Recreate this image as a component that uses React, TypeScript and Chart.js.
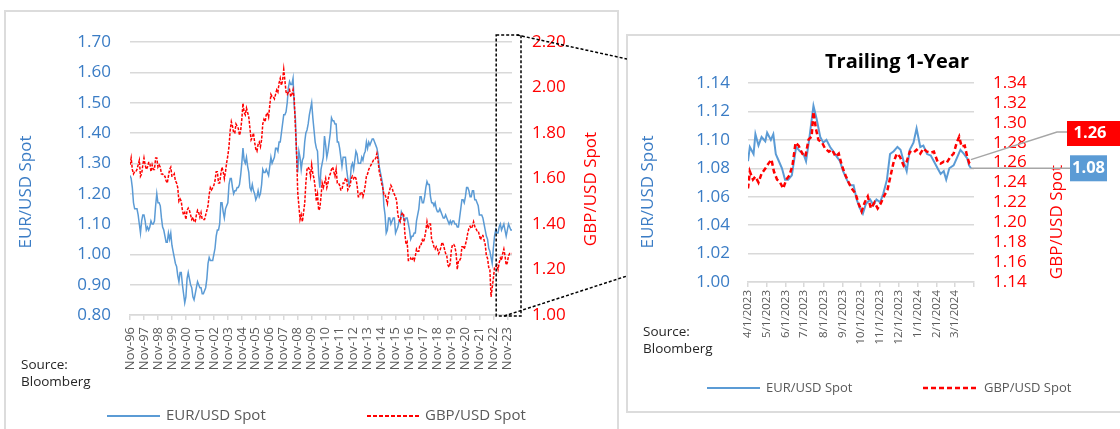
import { useEffect, useRef } from 'react';
import { Chart, registerables } from 'chart.js';

Chart.register(...registerables);

const FONT = '"Open Sans", "Liberation Sans", sans-serif';
const EUR_COLOR = '#5B9BD5';
const EUR_TEXT = '#3A7CC5';
const GBP_COLOR = '#FF0000';
const GRID = '#D9D9D9';
const AXIS_TEXT = '#595959';
const NOTE_TEXT = '#262626';

// ---- Long-run history: one value per month, Nov-96 through Mar-24 ----
const historyStart = { year: 1996, month: 11 };
const eurUsdMonthly = [
  1.26, 1.25, 1.22, 1.17, 1.15, 1.15, 1.15, 1.13, 1.10, 1.07, 1.11, 1.13,
  1.13, 1.11, 1.08, 1.09, 1.08, 1.09, 1.11, 1.10, 1.10, 1.11, 1.16, 1.20,
  1.17, 1.17, 1.16, 1.12, 1.09, 1.08, 1.06, 1.04, 1.04, 1.07, 1.05, 1.07,
  1.03, 1.01, 0.99, 0.97, 0.96, 0.93, 0.91, 0.94, 0.94, 0.90, 0.87, 0.84,
  0.86, 0.92, 0.94, 0.92, 0.90, 0.89, 0.86, 0.85, 0.87, 0.89, 0.91, 0.90,
  0.89, 0.89, 0.87, 0.87, 0.88, 0.89, 0.92, 0.97, 0.99, 0.98, 0.98, 0.98,
  1.00, 1.02, 1.06, 1.08, 1.08, 1.10, 1.17, 1.17, 1.14, 1.12, 1.15, 1.16,
  1.17, 1.23, 1.25, 1.25, 1.22, 1.20, 1.21, 1.21, 1.22, 1.22, 1.23, 1.26,
  1.30, 1.35, 1.31, 1.30, 1.32, 1.29, 1.27, 1.22, 1.21, 1.23, 1.21, 1.20,
  1.18, 1.19, 1.21, 1.19, 1.20, 1.23, 1.28, 1.27, 1.27, 1.28, 1.27, 1.26,
  1.29, 1.32, 1.30, 1.31, 1.32, 1.35, 1.35, 1.34, 1.37, 1.37, 1.40, 1.43,
  1.46, 1.46, 1.47, 1.50, 1.55, 1.57, 1.56, 1.56, 1.58, 1.49, 1.45, 1.33,
  1.27, 1.34, 1.32, 1.28, 1.31, 1.32, 1.37, 1.40, 1.41, 1.43, 1.46, 1.48,
  1.50, 1.45, 1.41, 1.37, 1.35, 1.34, 1.26, 1.22, 1.28, 1.30, 1.32, 1.39,
  1.36, 1.32, 1.34, 1.37, 1.40, 1.45, 1.44, 1.44, 1.43, 1.43, 1.37, 1.37,
  1.35, 1.32, 1.29, 1.32, 1.32, 1.32, 1.28, 1.25, 1.23, 1.24, 1.29, 1.30,
  1.28, 1.31, 1.34, 1.33, 1.30, 1.30, 1.30, 1.32, 1.31, 1.33, 1.34, 1.37,
  1.35, 1.37, 1.36, 1.37, 1.38, 1.38, 1.37, 1.36, 1.35, 1.33, 1.29, 1.27,
  1.25, 1.23, 1.16, 1.13, 1.07, 1.08, 1.12, 1.12, 1.10, 1.11, 1.12, 1.12,
  1.07, 1.08, 1.09, 1.11, 1.11, 1.14, 1.13, 1.12, 1.11, 1.12, 1.12, 1.10,
  1.08, 1.05, 1.06, 1.06, 1.07, 1.07, 1.11, 1.13, 1.15, 1.19, 1.19, 1.17,
  1.17, 1.19, 1.22, 1.24, 1.23, 1.23, 1.19, 1.17, 1.17, 1.16, 1.17, 1.15,
  1.14, 1.14, 1.15, 1.14, 1.13, 1.12, 1.12, 1.13, 1.12, 1.11, 1.10, 1.11,
  1.10, 1.11, 1.11, 1.10, 1.10, 1.09, 1.09, 1.12, 1.15, 1.18, 1.18, 1.17,
  1.19, 1.22, 1.22, 1.21, 1.19, 1.19, 1.21, 1.21, 1.18, 1.18, 1.17, 1.16,
  1.13, 1.13, 1.13, 1.12, 1.10, 1.08, 1.06, 1.05, 1.02, 1.01, 0.99, 0.97,
  1.02, 1.06, 1.08, 1.07, 1.07, 1.09, 1.10, 1.08, 1.09, 1.10, 1.08, 1.06,
  1.08, 1.10, 1.09, 1.08, 1.08,
];
const gbpUsdMonthly = [
  1.66, 1.69, 1.64, 1.62, 1.63, 1.63, 1.64, 1.66, 1.68, 1.61, 1.62, 1.66,
  1.69, 1.66, 1.64, 1.65, 1.67, 1.67, 1.63, 1.66, 1.64, 1.64, 1.69, 1.69,
  1.65, 1.66, 1.65, 1.62, 1.62, 1.61, 1.61, 1.59, 1.58, 1.61, 1.64, 1.65,
  1.61, 1.61, 1.62, 1.59, 1.58, 1.56, 1.50, 1.51, 1.50, 1.46, 1.44, 1.45,
  1.42, 1.46, 1.47, 1.46, 1.44, 1.42, 1.43, 1.41, 1.41, 1.44, 1.46, 1.45,
  1.43, 1.45, 1.42, 1.42, 1.42, 1.44, 1.46, 1.48, 1.53, 1.56, 1.55, 1.56,
  1.57, 1.59, 1.63, 1.63, 1.58, 1.58, 1.62, 1.65, 1.63, 1.60, 1.63, 1.67,
  1.70, 1.74, 1.81, 1.85, 1.83, 1.80, 1.80, 1.84, 1.83, 1.82, 1.79, 1.81,
  1.86, 1.93, 1.89, 1.88, 1.91, 1.89, 1.87, 1.82, 1.77, 1.78, 1.80, 1.76,
  1.73, 1.72, 1.75, 1.76, 1.74, 1.77, 1.84, 1.86, 1.85, 1.88, 1.89, 1.87,
  1.92, 1.97, 1.96, 1.96, 1.95, 1.97, 1.99, 1.98, 2.02, 2.04, 2.01, 2.03,
  2.08, 2.03, 1.98, 1.97, 1.98, 1.99, 1.96, 1.97, 1.99, 1.95, 1.83, 1.72,
  1.54, 1.48, 1.42, 1.44, 1.41, 1.45, 1.49, 1.58, 1.64, 1.65, 1.64, 1.61,
  1.66, 1.62, 1.60, 1.56, 1.50, 1.53, 1.46, 1.47, 1.52, 1.58, 1.56, 1.58,
  1.60, 1.56, 1.58, 1.61, 1.62, 1.64, 1.65, 1.63, 1.61, 1.64, 1.58, 1.58,
  1.57, 1.55, 1.55, 1.58, 1.58, 1.60, 1.60, 1.55, 1.56, 1.57, 1.60, 1.61,
  1.60, 1.61, 1.60, 1.57, 1.52, 1.52, 1.54, 1.54, 1.52, 1.54, 1.57, 1.61,
  1.62, 1.64, 1.65, 1.66, 1.67, 1.68, 1.68, 1.69, 1.71, 1.68, 1.63, 1.61,
  1.58, 1.56, 1.53, 1.53, 1.51, 1.49, 1.53, 1.55, 1.57, 1.56, 1.54, 1.53,
  1.52, 1.50, 1.44, 1.42, 1.41, 1.44, 1.45, 1.44, 1.36, 1.31, 1.32, 1.24,
  1.24, 1.25, 1.24, 1.25, 1.24, 1.26, 1.29, 1.28, 1.28, 1.31, 1.31, 1.33,
  1.32, 1.34, 1.37, 1.41, 1.38, 1.40, 1.40, 1.33, 1.32, 1.30, 1.29, 1.30,
  1.29, 1.27, 1.28, 1.30, 1.32, 1.31, 1.29, 1.27, 1.26, 1.22, 1.21, 1.23,
  1.29, 1.31, 1.31, 1.30, 1.27, 1.20, 1.24, 1.24, 1.25, 1.30, 1.30, 1.29,
  1.31, 1.33, 1.36, 1.38, 1.39, 1.38, 1.39, 1.41, 1.39, 1.38, 1.37, 1.37,
  1.35, 1.33, 1.35, 1.35, 1.33, 1.31, 1.26, 1.25, 1.21, 1.20, 1.08, 1.12,
  1.16, 1.21, 1.21, 1.22, 1.20, 1.23, 1.25, 1.24, 1.27, 1.29, 1.26, 1.22,
  1.23, 1.26, 1.27, 1.27, 1.27,
];
const historyTickLabels = [
  'Nov-96', 'Nov-97', 'Nov-98', 'Nov-99', 'Nov-00', 'Nov-01', 'Nov-02',
  'Nov-03', 'Nov-04', 'Nov-05', 'Nov-06', 'Nov-07', 'Nov-08', 'Nov-09',
  'Nov-10', 'Nov-11', 'Nov-12', 'Nov-13', 'Nov-14', 'Nov-15', 'Nov-16',
  'Nov-17', 'Nov-18', 'Nov-19', 'Nov-20', 'Nov-21', 'Nov-22', 'Nov-23',
];
// first month of the trailing-year window highlighted on the history chart
const trailingWindowStart = { year: 2023, month: 4 };

// ---- Trailing year: days counted from 4/1/2023 ----
const trailingBase = '4/1/2023';
const eurTrailingDays = [
  0, 3, 9, 12, 17, 22, 28, 31, 37, 41,
  45, 49, 55, 60, 65, 71, 78, 84, 90, 94,
  99, 106, 111, 117, 122, 127, 133, 138, 144, 149,
  154, 160, 165, 171, 176, 181, 186, 191, 198, 203,
  208, 214, 219, 225, 230, 236, 242, 247, 252, 257,
  262, 268, 273, 279, 284, 290, 296, 301, 307, 312,
  317, 321, 326, 333, 338, 344, 350, 355, 358, 361,
];
const eurUsdTrailing = [
  1.085, 1.095, 1.090, 1.104, 1.096, 1.102, 1.099, 1.105, 1.100, 1.104,
  1.090, 1.086, 1.080, 1.072, 1.072, 1.075, 1.095, 1.092, 1.090, 1.085,
  1.100, 1.124, 1.115, 1.102, 1.098, 1.100, 1.095, 1.092, 1.088, 1.085,
  1.078, 1.072, 1.068, 1.068, 1.058, 1.052, 1.048, 1.055, 1.058, 1.054,
  1.058, 1.056, 1.062, 1.072, 1.090, 1.092, 1.095, 1.093, 1.085, 1.078,
  1.093, 1.098, 1.108, 1.095, 1.096, 1.090, 1.089, 1.085, 1.080, 1.076,
  1.078, 1.072, 1.080, 1.082, 1.087, 1.093, 1.090, 1.087, 1.082, 1.080,
];
const gbpTrailingDays = [
  0, 3, 8, 12, 17, 22, 28, 33, 38, 42,
  47, 52, 57, 62, 67, 72, 77, 82, 88, 93,
  98, 103, 106, 110, 114, 120, 125, 131, 136, 142,
  147, 152, 158, 163, 168, 174, 179, 184, 189, 194,
  199, 205, 210, 215, 220, 226, 231, 236, 241, 246,
  252, 257, 262, 268, 273, 279, 284, 290, 296, 301,
  307, 312, 317, 322, 328, 333, 338, 342, 346, 351,
  355, 358, 361,
];
const gbpUsdTrailing = [
  1.234, 1.251, 1.243, 1.246, 1.240, 1.249, 1.254, 1.259, 1.263, 1.251,
  1.243, 1.240, 1.234, 1.243, 1.247, 1.257, 1.280, 1.277, 1.269, 1.266,
  1.283, 1.286, 1.311, 1.294, 1.283, 1.280, 1.274, 1.271, 1.273, 1.266,
  1.269, 1.257, 1.247, 1.240, 1.234, 1.229, 1.219, 1.211, 1.220, 1.226,
  1.214, 1.220, 1.214, 1.219, 1.226, 1.233, 1.247, 1.261, 1.269, 1.266,
  1.257, 1.261, 1.271, 1.270, 1.273, 1.269, 1.274, 1.271, 1.270, 1.271,
  1.261, 1.259, 1.261, 1.260, 1.266, 1.269, 1.280, 1.286, 1.276, 1.277,
  1.266, 1.260, 1.263,
];
const trailingTickDates = [
  '4/1/2023', '5/1/2023', '6/1/2023', '7/1/2023', '8/1/2023', '9/1/2023',
  '10/1/2023', '11/1/2023', '12/1/2023', '1/1/2024', '2/1/2024', '3/1/2024',
  '4/1/2024',
];

// ---- helpers ----
const DAY_MS = 86400000;
function parseUsDate(s: string) {
  const [m, d, y] = s.split('/').map(Number);
  return Date.UTC(y, m - 1, d);
}
function daysSinceBase(s: string) {
  return Math.round((parseUsDate(s) - parseUsDate(trailingBase)) / DAY_MS);
}
function monthIndex(p: { year: number; month: number }) {
  return (p.year - historyStart.year) * 12 + (p.month - historyStart.month);
}

function verticalText(ctx: CanvasRenderingContext2D, text: string, x: number, y: number, color: string, size: number) {
  ctx.save();
  ctx.translate(x, y);
  ctx.rotate(-Math.PI / 2);
  ctx.fillStyle = color;
  ctx.font = `${size}px ${FONT}`;
  ctx.textAlign = 'center';
  ctx.textBaseline = 'middle';
  ctx.fillText(text, 0, 0);
  ctx.restore();
}

function sourceNote(ctx: CanvasRenderingContext2D, x: number, y: number) {
  ctx.save();
  ctx.fillStyle = NOTE_TEXT;
  ctx.font = `13.5px ${FONT}`;
  ctx.textAlign = 'left';
  ctx.textBaseline = 'middle';
  ctx.fillText('Source:', x, y);
  ctx.fillText('Bloomberg', x, y + 17);
  ctx.restore();
}

function legendItem(
  ctx: CanvasRenderingContext2D,
  x0: number, x1: number, y: number,
  color: string, dash: number[], width: number,
  text: string, size: number,
) {
  ctx.save();
  ctx.strokeStyle = color;
  ctx.lineWidth = width;
  ctx.setLineDash(dash);
  ctx.beginPath();
  ctx.moveTo(x0, y);
  ctx.lineTo(x1, y);
  ctx.stroke();
  ctx.fillStyle = AXIS_TEXT;
  ctx.font = `${size}px ${FONT}`;
  ctx.textAlign = 'left';
  ctx.textBaseline = 'middle';
  ctx.fillText(text, x1 + 6, y);
  ctx.restore();
}

// ---- long-run chart ----
function historyConfig(): any {
  const tickIdx = historyTickLabels.map((_, i) => i * 12);
  const lastIdx = eurUsdMonthly.length - 1;

  const decor = {
    id: 'historyDecor',
    afterDraw(chart: any) {
      const { ctx, chartArea: a, scales } = chart;
      verticalText(ctx, 'EUR/USD Spot', 26, 192, EUR_TEXT, 17);
      verticalText(ctx, 'GBP/USD Spot', 591, 189, GBP_COLOR, 17);
      sourceNote(ctx, 21, 365);
      legendItem(ctx, 107, 160, 416, EUR_COLOR, [], 2, 'EUR/USD Spot', 15);
      legendItem(ctx, 367, 419, 416, GBP_COLOR, [4, 2], 2, 'GBP/USD Spot', 15);

      // dashed frame around the trailing-year window, with leaders to the inset
      const fx0 = scales.x.getPixelForValue(monthIndex(trailingWindowStart)) - 3;
      const fx1 = a.right + 9;
      const fy0 = a.top - 7;
      const fy1 = a.bottom + 1;
      ctx.save();
      ctx.strokeStyle = '#000000';
      ctx.lineWidth = 1.5;
      ctx.setLineDash([3, 2]);
      ctx.strokeRect(fx0, fy0, fx1 - fx0, fy1 - fy0);
      ctx.beginPath();
      ctx.moveTo(fx1 - 4, fy0);
      ctx.lineTo(chart.width, fy0 + 24);
      ctx.moveTo(fx0 + 8, fy1);
      ctx.lineTo(chart.width, fy1 - 40);
      ctx.stroke();
      ctx.restore();
    },
  };

  return {
    type: 'line',
    data: {
      datasets: [
        {
          label: 'GBP/USD Spot',
          data: gbpUsdMonthly.map((v, i) => ({ x: i, y: v })),
          borderColor: GBP_COLOR,
          borderWidth: 1.5,
          borderDash: [3, 1.5],
          pointRadius: 0,
          yAxisID: 'y1',
          order: 0,
        },
        {
          label: 'EUR/USD Spot',
          data: eurUsdMonthly.map((v, i) => ({ x: i, y: v })),
          borderColor: EUR_COLOR,
          borderWidth: 1.5,
          pointRadius: 0,
          yAxisID: 'y',
          order: 1,
        },
      ],
    },
    options: {
      responsive: false,
      animation: false,
      events: [],
      layout: { padding: { top: 42, left: 0, right: 0, bottom: 0 } },
      plugins: { legend: { display: false }, tooltip: { enabled: false } },
      scales: {
        x: {
          type: 'linear',
          min: 0,
          max: lastIdx,
          afterBuildTicks: (s: any) => { s.ticks = tickIdx.map((v) => ({ value: v })); },
          afterFit: (s: any) => { s.height = 114; },
          ticks: {
            autoSkip: false,
            minRotation: 90,
            maxRotation: 90,
            padding: 7,
            color: AXIS_TEXT,
            font: { family: FONT, size: 13 },
            callback: (_v: any, i: number) => historyTickLabels[i],
          },
          grid: { drawOnChartArea: false, drawTicks: true, tickLength: 5, color: GRID, lineWidth: 1.5 },
          border: { color: GRID, width: 1.5 },
        },
        y: {
          position: 'left',
          min: 0.8,
          max: 1.7,
          afterFit: (s: any) => { s.width = 130; },
          ticks: {
            stepSize: 0.1,
            autoSkip: false,
            padding: 19,
            color: EUR_TEXT,
            font: { family: FONT, size: 17 },
            callback: (v: any) => Number(v).toFixed(2),
          },
          grid: { color: GRID, lineWidth: 1.5, drawTicks: false },
          border: { display: false },
        },
        y1: {
          position: 'right',
          min: 1.0,
          max: 2.2,
          afterFit: (s: any) => { s.width = 115; },
          ticks: {
            stepSize: 0.2,
            autoSkip: false,
            padding: 20,
            color: GBP_COLOR,
            font: { family: FONT, size: 17 },
            callback: (v: any) => Number(v).toFixed(2),
          },
          grid: { drawOnChartArea: false, drawTicks: false },
          border: { display: false },
        },
      },
    },
    plugins: [decor],
  };
}

// ---- trailing-year inset ----
function trailingConfig(): any {
  const tickDays = trailingTickDates.map(daysSinceBase);
  const lastTick = tickDays.length - 1;

  const decor = {
    id: 'trailingDecor',
    afterDraw(chart: any) {
      const { ctx, scales } = chart;
      ctx.save();
      ctx.fillStyle = '#000000';
      ctx.font = `bold 20px ${FONT}`;
      ctx.textAlign = 'center';
      ctx.textBaseline = 'middle';
      ctx.fillText('Trailing 1-Year', 270, 27);
      ctx.restore();

      verticalText(ctx, 'EUR/USD Spot', 21, 157, EUR_TEXT, 17);
      verticalText(ctx, 'GBP/USD Spot', 430, 187, GBP_COLOR, 17);
      sourceNote(ctx, 16, 297);
      legendItem(ctx, 80, 133, 353, EUR_COLOR, [], 2, 'EUR/USD Spot', 13);
      legendItem(ctx, 296, 351, 353, GBP_COLOR, [5, 3], 2.5, 'GBP/USD Spot', 13);

      // call-outs for the latest values
      const ne = eurUsdTrailing.length - 1;
      const ng = gbpUsdTrailing.length - 1;
      const lastEur = eurUsdTrailing[ne];
      const lastGbp = gbpUsdTrailing[ng];
      const exE = scales.x.getPixelForValue(eurTrailingDays[ne]);
      const eyE = scales.y.getPixelForValue(lastEur);
      const exG = scales.x.getPixelForValue(gbpTrailingDays[ng]);
      const eyG = scales.y1.getPixelForValue(lastGbp);

      ctx.save();
      ctx.strokeStyle = '#A6A6A6';
      ctx.lineWidth = 1.5;
      ctx.beginPath();
      ctx.moveTo(exG, eyG);
      ctx.lineTo(430, 97);
      ctx.lineTo(440, 97);
      ctx.moveTo(exE, eyE);
      ctx.lineTo(443, eyE);
      ctx.stroke();

      ctx.fillStyle = GBP_COLOR;
      ctx.fillRect(440, 86, 60, 25);
      ctx.fillStyle = EUR_COLOR;
      ctx.fillRect(443, eyE - 13, 37, 26);

      ctx.fillStyle = '#FFFFFF';
      ctx.font = `bold 16.5px ${FONT}`;
      ctx.textAlign = 'center';
      ctx.textBaseline = 'middle';
      ctx.fillText(lastGbp.toFixed(2), 463, 98.5);
      ctx.fillText(lastEur.toFixed(2), 461.5, eyE);
      ctx.restore();
    },
  };

  return {
    type: 'line',
    data: {
      datasets: [
        {
          label: 'GBP/USD Spot',
          data: gbpTrailingDays.map((d, i) => ({ x: d, y: gbpUsdTrailing[i] })),
          borderColor: GBP_COLOR,
          borderWidth: 2.5,
          borderDash: [5, 3],
          pointRadius: 0,
          yAxisID: 'y1',
          order: 0,
        },
        {
          label: 'EUR/USD Spot',
          data: eurTrailingDays.map((d, i) => ({ x: d, y: eurUsdTrailing[i] })),
          borderColor: EUR_COLOR,
          borderWidth: 2,
          pointRadius: 0,
          yAxisID: 'y',
          order: 1,
        },
      ],
    },
    options: {
      responsive: false,
      animation: false,
      events: [],
      layout: { padding: { top: 48, left: 0, right: 0, bottom: 0 } },
      plugins: { legend: { display: false }, tooltip: { enabled: false } },
      scales: {
        x: {
          type: 'linear',
          min: 0,
          max: tickDays[lastTick],
          afterBuildTicks: (s: any) => { s.ticks = tickDays.map((v) => ({ value: v })); },
          afterFit: (s: any) => { s.height = 130; },
          ticks: {
            autoSkip: false,
            minRotation: 90,
            maxRotation: 90,
            padding: 3,
            color: AXIS_TEXT,
            font: { family: FONT, size: 11.5 },
            callback: (_v: any, i: number) => (i === lastTick ? '' : trailingTickDates[i]),
          },
          grid: { drawOnChartArea: false, drawTicks: true, tickLength: 5, color: GRID, lineWidth: 1.5 },
          border: { color: GRID, width: 1.5 },
        },
        y: {
          position: 'left',
          min: 1.0,
          max: 1.14,
          afterFit: (s: any) => { s.width = 121; },
          ticks: {
            stepSize: 0.02,
            autoSkip: false,
            padding: 18,
            color: EUR_TEXT,
            font: { family: FONT, size: 17 },
            callback: (v: any) => Number(v).toFixed(2),
          },
          grid: { color: GRID, lineWidth: 1.5, drawTicks: false },
          border: { display: false },
        },
        y1: {
          position: 'right',
          min: 1.14,
          max: 1.34,
          afterFit: (s: any) => { s.width = 146; },
          ticks: {
            stepSize: 0.02,
            autoSkip: false,
            padding: 19,
            color: GBP_COLOR,
            font: { family: FONT, size: 17 },
            callback: (v: any) => Number(v).toFixed(2),
          },
          grid: { drawOnChartArea: false, drawTicks: false },
          border: { display: false },
        },
      },
    },
    plugins: [decor],
  };
}

export default function App() {
  const historyRef = useRef<HTMLCanvasElement>(null);
  const trailingRef = useRef<HTMLCanvasElement>(null);

  useEffect(() => {
    const history = new Chart(historyRef.current as HTMLCanvasElement, historyConfig());
    const trailing = new Chart(trailingRef.current as HTMLCanvasElement, trailingConfig());
    return () => {
      history.destroy();
      trailing.destroy();
    };
  }, []);

  return (
    <div
      style={{
        position: 'absolute',
        left: 0,
        top: 0,
        width: 1120,
        height: 429,
        overflow: 'hidden',
        background: '#FFFFFF',
      }}
    >
      <div
        style={{
          position: 'absolute',
          left: 4,
          top: 10,
          width: 615,
          height: 440,
          boxSizing: 'border-box',
          border: '2px solid #DCDCDC',
          borderBottom: 'none',
        }}
      />
      <div
        style={{
          position: 'absolute',
          left: 626,
          top: 34,
          width: 520,
          height: 379,
          boxSizing: 'border-box',
          border: '2px solid #DCDCDC',
        }}
      />
      <canvas
        ref={historyRef}
        width={627}
        height={429}
        style={{ position: 'absolute', left: 0, top: 0 }}
      />
      <canvas
        ref={trailingRef}
        width={493}
        height={377}
        style={{ position: 'absolute', left: 627, top: 35 }}
      />
    </div>
  );
}
